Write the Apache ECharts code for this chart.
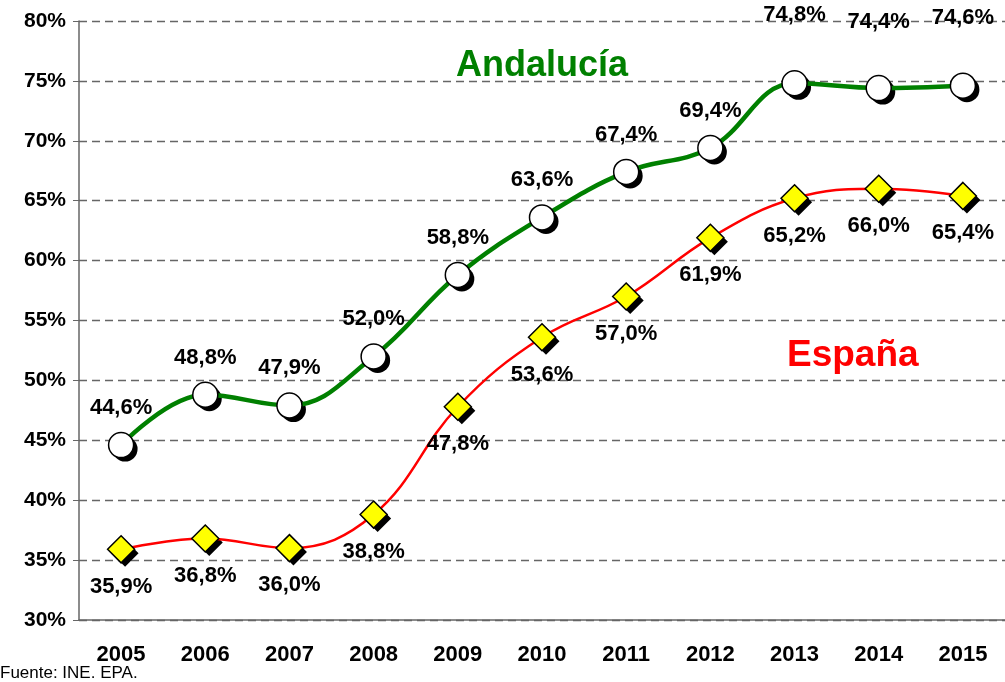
<html>
<meta charset="UTF-8">
<head>
    <script src="https://cdn.jsdelivr.net/npm/echarts@6/dist/echarts.min.js"></script>
    <style>
        body { margin: 0; background: #fff; }
    </style>
</head>
<body>
<div id="chart" style="width:1005px;height:682px;"></div>
</body>
<script>
    var years = ['2005', '2006', '2007', '2008', '2009', '2010', '2011', '2012', '2013', '2014', '2015'];
    var andalucia = [44.6, 48.8, 47.9, 52.0, 58.8, 63.6, 67.4, 69.4, 74.8, 74.4, 74.6];
    var espana = [35.9, 36.8, 36.0, 38.8, 47.8, 53.6, 57.0, 61.9, 65.2, 66.0, 65.4];

    var font = 'Liberation Sans, Arial, sans-serif';

    function pct(p) {
        return p.value.toFixed(1).replace('.', ',') + '%';
    }

    // the last three Andalucía labels sit higher, as in the original
    var andaluciaData = andalucia.map(function (v, i) {
        if (i >= 8) {
            return {value: v, label: {offset: [0, i == 9 ? -29 : -31]}};
        }
        return v;
    });

    // black offset copy of the markers, drawn under them (drop shadow)
    function shadowSeries(data, symbol, size) {
        return {
            type: 'line',
            data: data,
            symbol: symbol,
            symbolSize: size,
            symbolOffset: [4, 4],
            showAllSymbol: true,
            lineStyle: {width: 0, opacity: 0},
            itemStyle: {color: '#000', borderWidth: 0},
            z: 3,
            silent: true
        };
    }

    var chart = echarts.init(document.getElementById('chart'));
    chart.setOption({
        animation: false,
        grid: {left: 79, right: 0, top: 21, bottom: 62},
        xAxis: {
            type: 'category',
            data: years,
            axisLine: {lineStyle: {color: '#666', width: 1.5}},
            axisTick: {length: 6, lineStyle: {color: '#666'}},
            axisLabel: {color: '#000', fontFamily: font, fontWeight: 'bold', fontSize: 22, margin: 24}
        },
        yAxis: {
            type: 'value',
            min: 30, max: 80, interval: 5,
            axisLine: {show: true, lineStyle: {color: '#666', width: 1.5}},
            axisTick: {show: true, length: 6, lineStyle: {color: '#666'}},
            axisLabel: {color: '#000', fontFamily: font, fontWeight: 'bold', fontSize: 21, margin: 13, formatter: '{value}%'},
            splitLine: {lineStyle: {color: '#666', type: [8, 5], width: 1.3}}
        },
        graphic: [
            {type: 'text', left: 456, top: 48, style: {text: 'Andalucía', fill: '#008000', font: 'bold 36px ' + font}},
            {type: 'text', left: 787, top: 337, style: {text: 'España', fill: '#ff0000', font: 'bold 37px ' + font}},
            {type: 'text', left: 0, top: 665, style: {text: 'Fuente: INE. EPA.', fill: '#000', font: '17px ' + font}}
        ],
        series: [
            shadowSeries(espana, 'diamond', 27),
            shadowSeries(andalucia, 'circle', 25),
            {
                name: 'España',
                type: 'line',
                data: espana,
                smooth: 0.4,
                symbol: 'diamond',
                symbolSize: 27,
                z: 4,
                lineStyle: {color: '#ff0000', width: 2.5},
                itemStyle: {color: '#ffff00', borderColor: '#000', borderWidth: 1.5},
                label: {show: true, position: 'bottom', distance: 12, formatter: pct,
                    color: '#000', fontFamily: font, fontWeight: 'bold', fontSize: 22}
            },
            {
                name: 'Andalucía',
                type: 'line',
                data: andaluciaData,
                smooth: 0.4,
                symbol: 'circle',
                symbolSize: 25,
                z: 5,
                lineStyle: {color: '#008000', width: 4.5},
                itemStyle: {color: '#fff', borderColor: '#000', borderWidth: 1.5},
                label: {show: true, position: 'top', distance: 13, formatter: pct,
                    color: '#000', fontFamily: font, fontWeight: 'bold', fontSize: 22}
            }
        ]
    });
</script>
</html>
